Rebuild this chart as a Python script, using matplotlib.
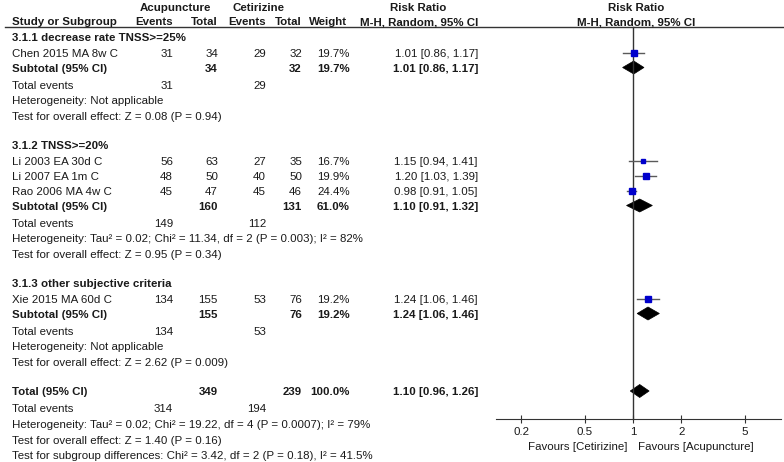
import matplotlib
matplotlib.use("Agg")
import matplotlib.pyplot as plt
from matplotlib.patches import Polygon
from matplotlib.ticker import NullLocator
import numpy as np

# study level data
groups = ["3.1.1 decrease rate TNSS>=25%", "3.1.2 TNSS>=20%", "3.1.3 other subjective criteria"]
studies = [["Chen 2015 MA 8w C"],
           ["Li 2003 EA 30d C", "Li 2007 EA 1m C", "Rao 2006 MA 4w C"],
           ["Xie 2015 MA 60d C"]]
acu_events = [[31], [56, 48, 45], [134]]
acu_total = [[34], [63, 50, 47], [155]]
cet_events = [[29], [27, 40, 45], [53]]
cet_total = [[32], [35, 50, 46], [76]]
weights = [[19.7], [16.7, 19.9, 24.4], [19.2]]
rr = [[1.01], [1.15, 1.20, 0.98], [1.24]]
rr_lo = [[0.86], [0.94, 1.03, 0.91], [1.06]]
rr_hi = [[1.17], [1.41, 1.39, 1.05], [1.46]]

# subgroup summaries
sub_weight = [19.7, 61.0, 19.2]
sub_rr = [1.01, 1.10, 1.24]
sub_lo = [0.86, 0.91, 1.06]
sub_hi = [1.17, 1.32, 1.46]
sub_het = ["Heterogeneity: Not applicable",
           "Heterogeneity: Tau\u00b2 = 0.02; Chi\u00b2 = 11.34, df = 2 (P = 0.003); I\u00b2 = 82%",
           "Heterogeneity: Not applicable"]
sub_test = ["Test for overall effect: Z = 0.08 (P = 0.94)",
            "Test for overall effect: Z = 0.95 (P = 0.34)",
            "Test for overall effect: Z = 2.62 (P = 0.009)"]

# overall
tot_acu, tot_cet = 349, 239
tot_rr, tot_lo, tot_hi = 1.10, 0.96, 1.26
tot_acu_ev, tot_cet_ev = 314, 194
tot_lines = ["Heterogeneity: Tau\u00b2 = 0.02; Chi\u00b2 = 19.22, df = 4 (P = 0.0007); I\u00b2 = 79%",
             "Test for overall effect: Z = 1.40 (P = 0.16)",
             "Test for subgroup differences: Chi\u00b2 = 3.42, df = 2 (P = 0.18), I\u00b2 = 41.5%"]

tick_vals = [0.2, 0.5, 1, 2, 5]
tick_labels = ["0.2", "0.5", "1", "2", "5"]

FS = 8.25
plt.rcParams['font.family'] = ['Liberation Sans', 'DejaVu Sans']
plt.rcParams['font.size'] = FS

W, H = 784, 462
TXT = '#1a1a1a'
fig = plt.figure(figsize=(W / 100, H / 100), dpi=100)

tx = fig.add_axes([0, 0, 1, 1])
tx.set_xlim(0, W)
tx.set_ylim(H, 0)
tx.axis('off')

X0, X1 = 496, 781
px = fig.add_axes([X0 / W, 0, (X1 - X0) / W, 1])
px.set_xscale('log')
px.set_xlim(0.139, 8.41)
px.set_ylim(H, 0)
px.patch.set_visible(False)
for s in ['left', 'right', 'top']:
    px.spines[s].set_visible(False)
AXIS_Y = 419
px.spines['bottom'].set_position(('data', AXIS_Y))
px.spines['bottom'].set_color('#333333')
px.set_yticks([])
px.set_xticks(tick_vals)
px.set_xticklabels(tick_labels)
px.xaxis.set_minor_locator(NullLocator())
px.tick_params(axis='x', direction='inout', length=6, width=0.8, pad=2.5,
               colors='#333333', labelcolor=TXT, labelsize=FS)

# column right edges
C_STUDY = 12
C_AE, C_AT, C_CE, C_CT, C_W, C_RR = 173, 218, 266, 302, 350, 478
OFF = 4.1  # baseline offset from row centre


def put(x, y, s, ha='left', bold=False):
    tx.text(x, y + OFF, s, ha=ha, va='baseline', color=TXT,
            fontweight='bold' if bold else 'normal')


# headers
put(175, 7, "Acupuncture", ha='center', bold=True)
put(259, 7, "Cetirizine", ha='center', bold=True)
put(418, 7, "Risk Ratio", ha='center', bold=True)
put(636, 7, "Risk Ratio", ha='center', bold=True)
put(C_STUDY, 21, "Study or Subgroup", bold=True)
put(C_AE, 21, "Events", ha='right', bold=True)
put(C_AT, 21, "Total", ha='right', bold=True)
put(C_CE, 21, "Events", ha='right', bold=True)
put(C_CT, 21, "Total", ha='right', bold=True)
put(C_W - 3, 21, "Weight", ha='right', bold=True)
put(C_RR, 21, "M-H, Random, 95% CI", ha='right', bold=True)
put(636, 21, "M-H, Random, 95% CI", ha='center', bold=True)
tx.plot([5, 783], [27, 27], color='#333333', lw=1)

# vertical line of no effect
px.plot([1, 1], [27, AXIS_Y], color='#333333', lw=1, clip_on=False)

BLUE = '#0000cc'
HALF_D = 6.5


def diamond(est, lo, hi, y):
    px.add_patch(Polygon([(lo, y), (est, y - HALF_D), (hi, y), (est, y + HALF_D)],
                         closed=True, fc='black', ec='black', lw=0.5, clip_on=False))


y = 37
for g in range(len(groups)):
    put(C_STUDY, y, groups[g], bold=True)
    y += 15.5
    for i in range(len(studies[g])):
        put(C_STUDY, y, studies[g][i])
        put(C_AE, y, str(acu_events[g][i]), ha='right')
        put(C_AT, y, str(acu_total[g][i]), ha='right')
        put(C_CE, y, str(cet_events[g][i]), ha='right')
        put(C_CT, y, str(cet_total[g][i]), ha='right')
        put(C_W, y, "%.1f%%" % weights[g][i], ha='right')
        put(C_RR, y, "%.2f [%.2f, %.2f]" % (rr[g][i], rr_lo[g][i], rr_hi[g][i]), ha='right')
        px.plot([rr_lo[g][i], rr_hi[g][i]], [y, y], color='#5a5a5a', lw=1, clip_on=False)
        side = 5.8 * np.sqrt(weights[g][i] / 24.4)
        px.plot([rr[g][i]], [y], marker='s', ms=side * 0.72, color=BLUE,
                mec=BLUE, ls='none', clip_on=False)
        y += 15
    put(C_STUDY, y, "Subtotal (95% CI)", bold=True)
    put(C_AT, y, str(sum(acu_total[g])), ha='right', bold=True)
    put(C_CT, y, str(sum(cet_total[g])), ha='right', bold=True)
    put(C_W, y, "%.1f%%" % sub_weight[g], ha='right', bold=True)
    put(C_RR, y, "%.2f [%.2f, %.2f]" % (sub_rr[g], sub_lo[g], sub_hi[g]), ha='right', bold=True)
    diamond(sub_rr[g], sub_lo[g], sub_hi[g], y)
    y += 17
    put(C_STUDY, y, "Total events")
    put(C_AE, y, str(sum(acu_events[g])), ha='right')
    put(C_CE, y, str(sum(cet_events[g])), ha='right')
    y += 15.5
    put(C_STUDY, y, sub_het[g])
    y += 16
    put(C_STUDY, y, sub_test[g])
    y += 29

put(C_STUDY, y, "Total (95% CI)", bold=True)
put(C_AT, y, str(tot_acu), ha='right', bold=True)
put(C_CT, y, str(tot_cet), ha='right', bold=True)
put(C_W, y, "100.0%", ha='right', bold=True)
put(C_RR, y, "%.2f [%.2f, %.2f]" % (tot_rr, tot_lo, tot_hi), ha='right', bold=True)
diamond(tot_rr, tot_lo, tot_hi, y)
y += 17
put(C_STUDY, y, "Total events")
put(C_AE, y, str(tot_acu_ev), ha='right')
put(C_CE, y, str(tot_cet_ev), ha='right')
for line in tot_lines:
    y += 15.7
    put(C_STUDY, y, line)

put(628, 446, "Favours [Cetirizine]", ha='right')
put(638, 446, "Favours [Acupuncture]", ha='left')

fig.savefig("out.png", dpi=100)
